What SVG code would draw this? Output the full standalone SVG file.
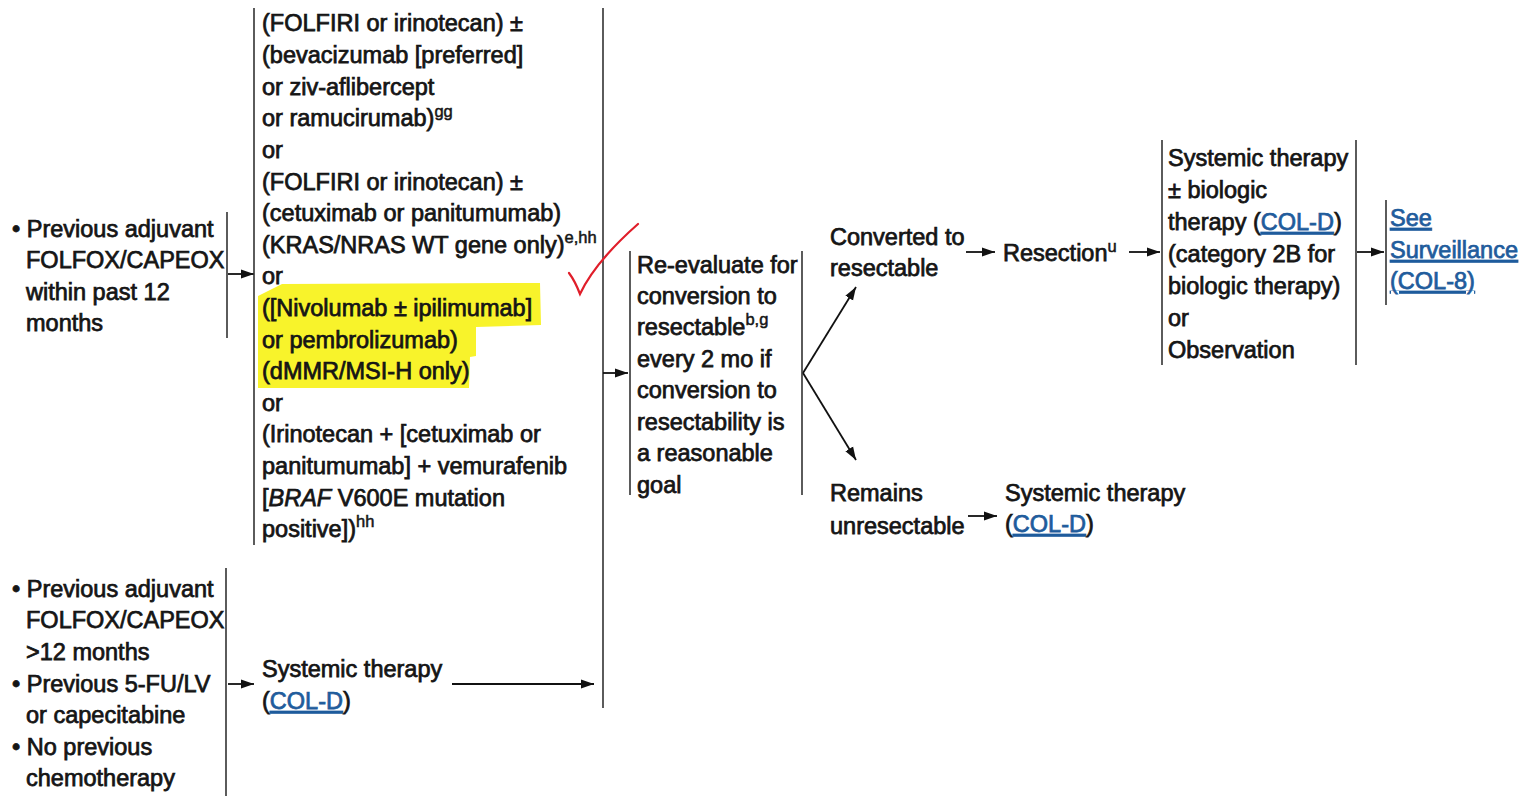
<svg xmlns="http://www.w3.org/2000/svg" width="1530" height="796" viewBox="0 0 1530 796">
<style>
text{font-family:"Liberation Sans",Arial,sans-serif;font-size:23.5px;fill:#151515;stroke:#151515;stroke-width:0.75px}
.sup{font-size:16.5px;stroke-width:0.5px}
.lnk{fill:#1f5c9c;stroke:#1f5c9c;text-decoration:underline}
.ln{stroke:#333;stroke-width:1.6;fill:none}
.ar{stroke:#111;stroke-width:1.8;fill:none;marker-end:url(#ah)}
</style>
<defs>
<marker id="ah" markerUnits="userSpaceOnUse" markerWidth="14" markerHeight="10" refX="13" refY="5" orient="auto">
<path d="M0,0.5 L13,5 L0,9.5 Z" fill="#111"/>
</marker>
</defs>
<rect width="1530" height="796" fill="#fff"/>

<g id="highlight">
<path d="M258,296 L282,284 L540,283 L541,325 L476,327 L476,356 L470,357 L469,388 L258,388 Z" fill="#f8f32b"/>
</g>

<g id="connectors">
<line class="ln" x1="227" y1="212" x2="227" y2="338"/>
<line class="ar" x1="228" y1="274" x2="254" y2="274"/>
<line class="ln" x1="254" y1="8" x2="254" y2="545"/>
<line class="ln" x1="226" y1="568" x2="226" y2="796"/>
<line class="ar" x1="228" y1="684" x2="254" y2="684"/>
<line class="ar" x1="452" y1="684" x2="594" y2="684"/>
<line class="ln" x1="603" y1="8" x2="603" y2="708"/>
<line class="ar" x1="603" y1="373" x2="628" y2="373"/>
<line class="ln" x1="630" y1="251" x2="630" y2="495"/>
<line class="ln" x1="802" y1="251" x2="802" y2="495"/>
<line class="ar" x1="803" y1="373" x2="856" y2="287"/>
<line class="ar" x1="803" y1="373" x2="856" y2="460"/>
<line class="ar" x1="966" y1="252" x2="995" y2="252"/>
<line class="ar" x1="1129" y1="252" x2="1160" y2="252"/>
<line class="ln" x1="1162" y1="140" x2="1162" y2="365"/>
<line class="ln" x1="1356" y1="140" x2="1356" y2="365"/>
<line class="ar" x1="1357" y1="252" x2="1384" y2="252"/>
<line class="ln" x1="1386" y1="200" x2="1386" y2="305"/>
<line class="ar" x1="968" y1="516" x2="997" y2="516"/>
</g>

<g id="cond1">
<text x="12" y="237">• Previous adjuvant</text>
<text x="26" y="268">FOLFOX/CAPEOX</text>
<text x="26" y="300">within past 12</text>
<text x="26" y="331">months</text>
</g>

<g id="cond2">
<text x="12" y="597">• Previous adjuvant</text>
<text x="26" y="628">FOLFOX/CAPEOX</text>
<text x="26" y="660">&gt;12 months</text>
<text x="12" y="692">• Previous 5-FU/LV</text>
<text x="26" y="723">or capecitabine</text>
<text x="12" y="755">• No previous</text>
<text x="26" y="786">chemotherapy</text>
</g>

<g id="options">
<text x="262" y="31">(FOLFIRI or irinotecan) ±</text>
<text x="262" y="63">(bevacizumab [preferred]</text>
<text x="262" y="95">or ziv-aflibercept</text>
<text x="262" y="126">or ramucirumab)<tspan class="sup" dy="-9">gg</tspan></text>
<text x="262" y="158">or</text>
<text x="262" y="190">(FOLFIRI or irinotecan) ±</text>
<text x="262" y="221">(cetuximab or panitumumab)</text>
<text x="262" y="253">(KRAS/NRAS WT gene only)<tspan class="sup" dy="-10">e,hh</tspan></text>
<text x="262" y="284">or</text>
<text x="262" y="316">([Nivolumab ± ipilimumab]</text>
<text x="262" y="348">or pembrolizumab)</text>
<text x="262" y="379">(dMMR/MSI-H only)</text>
<text x="262" y="411">or</text>
<text x="262" y="442">(Irinotecan + [cetuximab or</text>
<text x="262" y="474">panitumumab] + vemurafenib</text>
<text x="262" y="506">[<tspan font-style="italic">BRAF</tspan> V600E mutation</text>
<text x="262" y="537">positive])<tspan class="sup" dy="-10">hh</tspan></text>
</g>

<g id="systemic1">
<text x="262" y="677">Systemic therapy</text>
<text x="262" y="709">(<tspan class="lnk">COL-D</tspan>)</text>
</g>

<g id="reevaluate">
<text x="637" y="273">Re-evaluate for</text>
<text x="637" y="304">conversion to</text>
<text x="637" y="335">resectable<tspan class="sup" dy="-10">b,g</tspan></text>
<text x="637" y="367">every 2 mo if</text>
<text x="637" y="398">conversion to</text>
<text x="637" y="430">resectability is</text>
<text x="637" y="461">a reasonable</text>
<text x="637" y="493">goal</text>
</g>

<g id="converted">
<text x="830" y="245">Converted to</text>
<text x="830" y="276">resectable</text>
</g>

<g id="resection">
<text x="1003" y="261">Resection<tspan class="sup" dy="-9">u</tspan></text>
</g>

<g id="adjuvant">
<text x="1168" y="166">Systemic therapy</text>
<text x="1168" y="198">± biologic</text>
<text x="1168" y="230">therapy (<tspan class="lnk">COL-D</tspan>)</text>
<text x="1168" y="262">(category 2B for</text>
<text x="1168" y="294">biologic therapy)</text>
<text x="1168" y="326">or</text>
<text x="1168" y="358">Observation</text>
</g>

<g id="surveillance">
<text class="lnk" x="1390" y="226">See </text>
<text class="lnk" x="1390" y="258">Surveillance</text>
<text class="lnk" x="1390" y="289">(COL-8)</text>
</g>

<g id="remains">
<text x="830" y="501">Remains</text>
<text x="830" y="534">unresectable</text>
</g>

<g id="systemic2">
<text x="1005" y="501">Systemic therapy</text>
<text x="1005" y="532">(<tspan class="lnk">COL-D</tspan>)</text>
</g>

<g id="checkmark">
<path d="M569,273 Q575,281 580,294 Q595,262 638,224" fill="none" stroke="#e01e2a" stroke-width="2.2" stroke-linecap="round"/>
</g>
</svg>
